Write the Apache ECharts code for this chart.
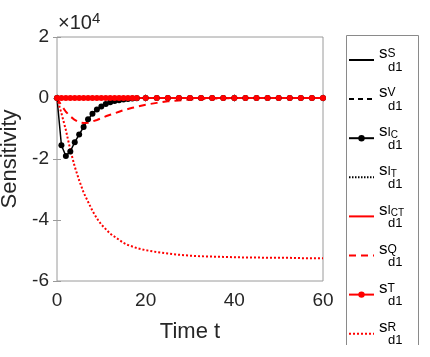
<!DOCTYPE html>
<html>
<head>
<meta charset="utf-8">
<script src="https://cdn.jsdelivr.net/npm/echarts@6/dist/echarts.min.js"></script>
<style>
  html, body { margin: 0; padding: 0; background: #fff; }
  #chart { width: 430px; height: 357px; }
</style>
</head>
<body>
<div id="chart"></div>
<script>
// time points (solver output, denser early)
const timeT = [0, 1, 2, 3, 4, 5, 6, 7, 8, 9, 10, 11, 12, 13, 14, 15, 16, 17, 18, 20,
  22.5, 25, 27.5, 30, 32.5, 35, 37.5, 40, 42.5, 45, 47.5, 50, 52.5, 55, 57.5, 60]

// sensitivities, units of 1e4
const sS = [0, 0, 0, 0, 0, 0, 0, 0, 0, 0, 0, 0, 0, 0, 0, 0, 0, 0, 0, 0,
  0, 0, 0, 0, 0, 0, 0, 0, 0, 0, 0, 0, 0, 0, 0, 0]
const sV = [0, 0, 0, 0, 0, 0, 0, 0, 0, 0, 0, 0, 0, 0, 0, 0, 0, 0, 0, 0,
  0, 0, 0, 0, 0, 0, 0, 0, 0, 0, 0, 0, 0, 0, 0, 0]
const sIC = [0, -1.55, -1.9, -1.75, -1.45, -1.2, -0.95, -0.7, -0.52, -0.38, -0.28, -0.2, -0.14, -0.1, -0.07, -0.05, -0.03, -0.02, -0.01, 0,
  0, 0, 0, 0, 0, 0, 0, 0, 0, 0, 0, 0, 0, 0, 0, 0]
const sIT = [0, 0, 0, 0, 0, 0, 0, 0, 0, 0, 0, 0, 0, 0, 0, 0, 0, 0, 0, 0,
  0, 0, 0, 0, 0, 0, 0, 0, 0, 0, 0, 0, 0, 0, 0, 0]
const sICT = [0, 0, 0, 0, 0, 0, 0, 0, 0, 0, 0, 0, 0, 0, 0, 0, 0, 0, 0, 0,
  0, 0, 0, 0, 0, 0, 0, 0, 0, 0, 0, 0, 0, 0, 0, 0]
const sQ = [0, -0.25, -0.45, -0.6, -0.72, -0.8, -0.82, -0.81, -0.77, -0.72, -0.66, -0.6, -0.55, -0.5, -0.45, -0.4, -0.36, -0.32, -0.29, -0.22,
  -0.16, -0.11, -0.08, -0.05, -0.03, -0.02, -0.01, 0, 0, 0, 0, 0, 0, 0, 0, 0]
const sT = [0, 0, 0, 0, 0, 0, 0, 0, 0, 0, 0, 0, 0, 0, 0, 0, 0, 0, 0, 0,
  0, 0, 0, 0, 0, 0, 0, 0, 0, 0, 0, 0, 0, 0, 0, 0]
const sR = [0, -0.5, -1.05, -1.7, -2.25, -2.7, -3.1, -3.4, -3.7, -3.95, -4.15, -4.3, -4.45, -4.55, -4.65, -4.75, -4.82, -4.87, -4.92, -4.99,
  -5.05, -5.1, -5.14, -5.17, -5.19, -5.2, -5.21, -5.22, -5.23, -5.23, -5.24, -5.24, -5.24, -5.25, -5.25, -5.25]

const xTicks = [0, 20, 40, 60]
const yTicks = [-6, -4, -2, 0, 2]

// legend labels: superscript, small index under it
const legendSup = {
  S: ['S', ''], V: ['V', ''], IC: ['I', 'C'], IT: ['I', 'T'],
  ICT: ['I', 'CT'], Q: ['Q', ''], T: ['T', ''], R: ['R', '']
}
const withMarker = ['IC', 'T']

const pair = arr => timeT.map((t, i) => [t, arr[i]])

const FONT = 'Liberation Sans, Arial, sans-serif'
const AX = '#262626'
const BOX = '#9a9a9a'

const chart = echarts.init(document.getElementById('chart'), null, { renderer: 'canvas' })

const line = (name, data, color, type, width) => {
  const marker = withMarker.includes(name)
  return {
    name,
    type: 'line',
    data: pair(data),
    symbol: marker ? 'circle' : 'none',
    symbolSize: 6,
    showSymbol: marker,
    itemStyle: { color },
    lineStyle: { color, type, width },
    animation: false,
    emphasis: { disabled: true }
  }
}

chart.setOption({
  backgroundColor: '#fff',
  textStyle: { fontFamily: FONT },
  grid: {
    left: 57, right: 107, top: 37, bottom: 76,
    outerBoundsMode: 'none',
    show: true, borderColor: BOX, borderWidth: 1
  },
  xAxis: [
    {
      type: 'value', min: 0, max: 60, interval: 20,
      axisLine: { show: false },
      axisTick: { inside: true, length: 4, lineStyle: { color: BOX } },
      splitLine: { show: false },
      axisLabel: { color: AX, fontSize: 19, margin: 10, fontFamily: FONT,
        formatter: v => xTicks.includes(v) ? String(v) : '' },
      name: 'Time t', nameLocation: 'middle', nameGap: 40,
      nameTextStyle: { color: AX, fontSize: 22, fontFamily: FONT }
    },
    {
      type: 'value', min: 0, max: 60, interval: 20, position: 'top',
      axisLine: { show: false },
      axisTick: { inside: true, length: 4, lineStyle: { color: BOX } },
      axisLabel: { show: false }, splitLine: { show: false }
    }
  ],
  yAxis: [
    {
      type: 'value', min: -6, max: 2, interval: 2,
      axisLine: { show: false },
      axisTick: { inside: true, length: 4, lineStyle: { color: BOX } },
      splitLine: { show: false },
      axisLabel: { color: AX, fontSize: 19, margin: 8, fontFamily: FONT,
        formatter: v => yTicks.includes(v) ? String(v) : '' },
      name: 'Sensitivity', nameLocation: 'middle', nameGap: 34,
      nameTextStyle: { color: AX, fontSize: 22, fontFamily: FONT }
    },
    {
      type: 'value', min: -6, max: 2, interval: 2, position: 'right',
      axisLine: { show: false },
      axisTick: { inside: true, length: 4, lineStyle: { color: BOX } },
      axisLabel: { show: false }, splitLine: { show: false }
    }
  ],
  legend: {
    orient: 'vertical',
    left: 348,
    top: 45,
    height: 312,
    itemWidth: 25,
    itemHeight: 8,
    itemGap: 10.6,
    padding: 0,
    selectedMode: false,
    data: Object.keys(legendSup).map(name => ({
      name,
      itemStyle: withMarker.includes(name) ? {} : { opacity: 0 }
    })),
    formatter: name => {
      const sp = legendSup[name]
      const top = sp[1] ? `{sup|${sp[0]}}{ssub|${sp[1]}}` : `{sup|${sp[0]}}`
      return `{s|s}${top}\n{gap|}{sub|d1}`
    },
    textStyle: {
      color: '#000',
      fontFamily: FONT,
      rich: {
        s: { fontSize: 17, lineHeight: 14, verticalAlign: 'bottom', color: '#000', fontFamily: FONT },
        sup: { fontSize: 12, lineHeight: 14, verticalAlign: 'top', color: '#000', fontFamily: FONT },
        ssub: { fontSize: 10, lineHeight: 14, verticalAlign: 'bottom', color: '#000', fontFamily: FONT },
        gap: { width: 9, lineHeight: 10 },
        sub: { fontSize: 13, lineHeight: 10, color: '#000', fontFamily: FONT }
      }
    }
  },
  graphic: [
    {
      type: 'polyline',
      shape: { points: [[346.5, 345], [346.5, 35.5], [418.5, 35.5], [418.5, 345]] },
      style: { stroke: '#8a8a8a', fill: null, lineWidth: 1 },
      silent: true
    },
    {
      type: 'text',
      left: 58, top: 11,
      style: {
        text: '{a|×10}{b|4}',
        fill: AX,
        rich: {
          a: { fontSize: 20, fontFamily: FONT, fill: AX, verticalAlign: 'bottom', lineHeight: 22 },
          b: { fontSize: 15, fontFamily: FONT, fill: AX, verticalAlign: 'top', lineHeight: 22 }
        }
      },
      silent: true
    }
  ],
  series: [
    line('S', sS, '#000', 'solid', 1.5),
    line('V', sV, '#000', [5, 4], 1.5),
    line('IC', sIC, '#000', 'solid', 1.5),
    line('IT', sIT, '#000', [1.5, 1.5], 1.5),
    line('ICT', sICT, '#ff0000', 'solid', 2),
    line('Q', sQ, '#ff0000', [7, 5], 2),
    line('T', sT, '#ff0000', 'solid', 2),
    line('R', sR, '#ff0000', [2, 2], 2)
  ]
})
</script>
</body>
</html>
